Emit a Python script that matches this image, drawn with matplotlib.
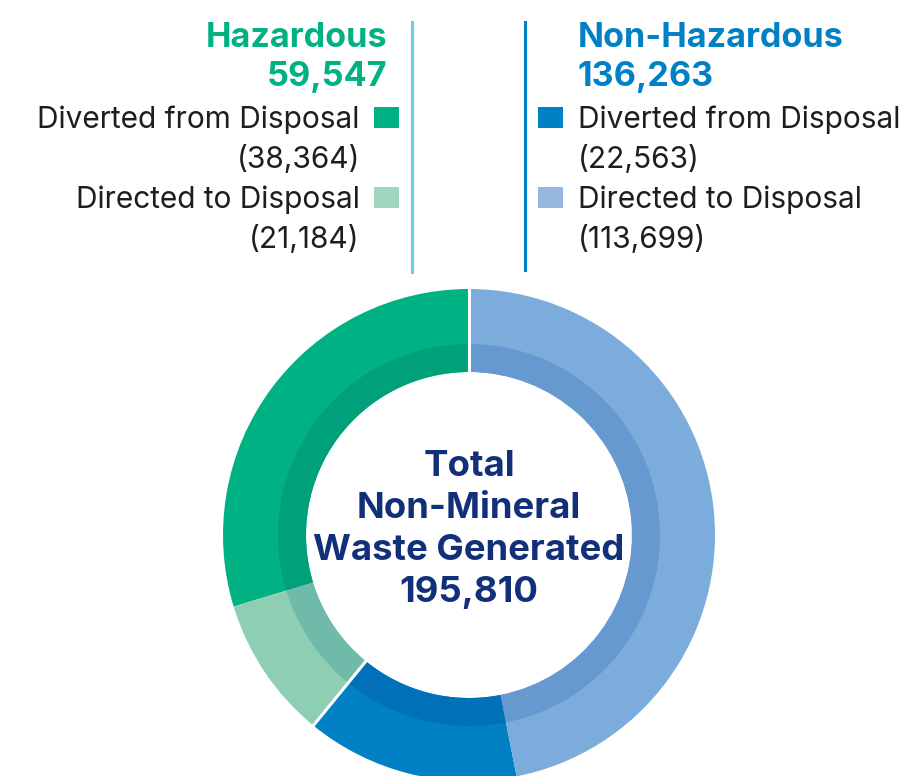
import matplotlib.pyplot as plt
import numpy as np

# categories (order around the ring, counter-clockwise from the top)
segments = ['Hazardous - Diverted', 'Hazardous - Directed',
            'Non-Hazardous - Diverted', 'Non-Hazardous - Directed']
values = [38364, 21184, 22563, 113699]
# arc share of each segment as drawn in the infographic (percent)
drawn_share = [29.7, 9.4, 14.0, 46.9]

group_names = ['Hazardous', 'Non-Hazardous']
group_totals = [59547, 136263]
total = 195810

ring_colors = ['#00b283', '#8ecfb3', '#0081c6', '#7cacdc']
band_colors = ['#00a07b', '#70baa9', '#0071b9', '#6699d0']
key_colors = ['#00b283', '#a0d6bf', '#0081c6', '#96b7e0']

W, H = 903, 776
fig = plt.figure(figsize=(W / 100, H / 100), dpi=100)
ax = fig.add_axes([0, 0, 1, 1])

def py(y):
    # pixel row (from top) -> data y
    return H - y

cx, cy = 469, py(535)
R, r_band, r_in = 246, 191, 163

ax.pie(drawn_share, colors=ring_colors, startangle=90, counterclock=True,
       radius=R, center=(cx, cy), wedgeprops=dict(width=R - r_in, linewidth=0),
       frame=True)
ax.pie(drawn_share, colors=band_colors, startangle=90, counterclock=True,
       radius=r_band, center=(cx, cy), wedgeprops=dict(width=r_band - r_in, linewidth=0),
       frame=True)
ax.set_xlim(0, W)
ax.set_ylim(0, H)
ax.set_aspect('equal')
ax.axis('off')

# white gaps between hazardous and non-hazardous
cum = np.cumsum([0] + drawn_share) / sum(drawn_share) * 360
for a in [cum[0], cum[2]]:
    t = np.deg2rad(90 + a)
    ax.plot([cx + (r_in - 2) * np.cos(t), cx + (R + 2) * np.cos(t)],
            [cy + (r_in - 2) * np.sin(t), cy + (R + 2) * np.sin(t)],
            color='white', lw=2.2, solid_capstyle='butt', zorder=5)

font = 'Inter'
navy = '#12307a'
ink = '#1e1e1e'

# centre text
center_lines = ['Total', 'Non-Mineral', 'Waste Generated', f'{total:,}']
for i, s in enumerate(center_lines):
    ax.text(cx, py(476 + 42 * i), s, ha='center', va='baseline', fontsize=26.3,
            fontweight='bold', color=navy, family=font)

# divider lines
ax.plot([412.5, 412.5], [py(22), py(272)], color='#6ccde8', lw=2.2)
ax.plot([525, 525], [py(22), py(270)], color='#0081c6', lw=2.2)

# left block (hazardous)
ax.text(387, py(47), group_names[0], ha='right', va='baseline', fontsize=24.6,
        fontweight='bold', color=ring_colors[0], family=font)
ax.text(387, py(86), f'{group_totals[0]:,}', ha='right', va='baseline', fontsize=24.6,
        fontweight='bold', color=ring_colors[0], family=font)

# right block (non-hazardous)
ax.text(578, py(47), group_names[1], ha='left', va='baseline', fontsize=24.6,
        fontweight='bold', color=ring_colors[2], family=font)
ax.text(578, py(86), f'{group_totals[1]:,}', ha='left', va='baseline', fontsize=24.6,
        fontweight='bold', color=ring_colors[2], family=font)

labels = ['Diverted from Disposal', 'Directed to Disposal']
fs = 21.5
for k in range(2):
    base = 128 + 80 * k
    # hazardous
    ax.text(360, py(base), labels[k], ha='right', va='baseline', fontsize=fs,
            fontweight='normal', color=ink, family=font)
    ax.text(360, py(base + 40), f'({values[k]:,})', ha='right', va='baseline',
            fontsize=fs, fontweight='normal', color=ink, family=font)
    ax.add_patch(plt.Rectangle((374, py(base)), 25, 21, color=key_colors[k], lw=0))
    # non-hazardous
    ax.text(578, py(base), labels[k], ha='left', va='baseline', fontsize=fs,
            fontweight='normal', color=ink, family=font)
    ax.text(578, py(base + 40), f'({values[k + 2]:,})', ha='left', va='baseline',
            fontsize=fs, fontweight='normal', color=ink, family=font)
    ax.add_patch(plt.Rectangle((538, py(base)), 25, 21, color=key_colors[k + 2], lw=0))

fig.savefig('out.png', dpi=100)
